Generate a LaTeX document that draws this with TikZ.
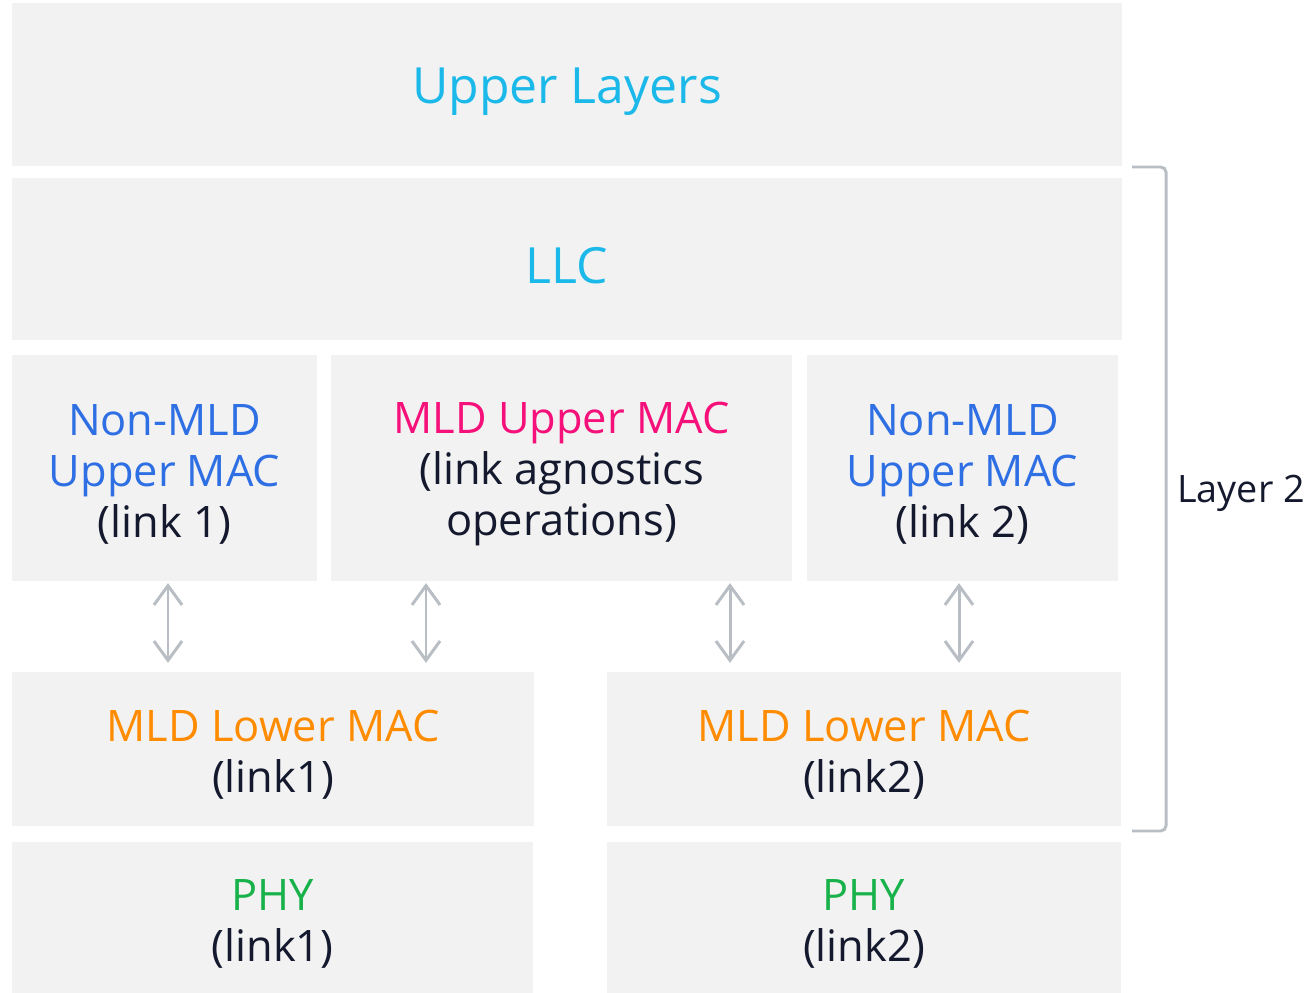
\documentclass[tikz,border=0pt]{standalone}
\usepackage{fontspec}
\setmainfont{Open Sans}
\usetikzlibrary{arrows.meta}
\definecolor{boxgray}{HTML}{F2F2F2}
\definecolor{linegray}{HTML}{B8BEC4}
\definecolor{textdark}{HTML}{14192E}
\definecolor{upcyan}{HTML}{1BB8EA}
\definecolor{macblue}{HTML}{2F6FE4}
\definecolor{mldpink}{HTML}{F5107A}
\definecolor{loworange}{HTML}{FF8C00}
\definecolor{phygreen}{HTML}{18B24A}
\newcommand{\lift}{\rule{0pt}{1em}}
\begin{document}
\begin{tikzpicture}[x=0.02cm, y=-0.02cm,
    layerbox/.style={fill=boxgray, inner sep=0pt, align=center, text=textdark,
        font=\fontsize{24.7}{29}\selectfont},
    bigtext/.style={font=\fontsize{28.4}{32}\selectfont},
    biarrow/.style={draw=linegray, line width=1.7pt,
        {Straight Barb[length=11pt, width=16pt, line width=1.7pt]}-{Straight Barb[length=11pt, width=16pt, line width=1.7pt]},
        shorten <=1pt, shorten >=5pt}]
    \useasboundingbox (0,0) rectangle (1312,993);

    \node (upper) [layerbox, bigtext, minimum width=22.2cm, minimum height=3.26cm] at (567,84.5) {\lift\textcolor{upcyan}{Upper Layers}};
    \node (llc) [layerbox, bigtext, minimum width=22.2cm, minimum height=3.24cm] at (567,259) {\lift\textcolor{upcyan}{LLC}};

    \node (nonmldA) [layerbox, minimum width=6.1cm, minimum height=4.52cm] at (164.5,468) {\lift\textcolor{macblue}{Non-MLD}\\\textcolor{macblue}{Upper MAC}\\(link 1)};
    \node (mldup) [layerbox, minimum width=9.22cm, minimum height=4.52cm] at (561.5,468) {\lift\textcolor{mldpink}{MLD Upper MAC}\\(link agnostics\\operations)};
    \node (nonmldB) [layerbox, minimum width=6.22cm, minimum height=4.52cm] at (962.5,468) {\lift\textcolor{macblue}{Non-MLD}\\\textcolor{macblue}{Upper MAC}\\(link 2)};

    \node (mldlowA) [layerbox, minimum width=10.44cm, minimum height=3.08cm] at (273,749) {\lift\textcolor{loworange}{MLD Lower MAC}\\(link1)};
    \node (mldlowB) [layerbox, minimum width=10.28cm, minimum height=3.08cm] at (864,749) {\lift\textcolor{loworange}{MLD Lower MAC}\\(link2)};

    \node (phyA) [layerbox, minimum width=10.42cm, minimum height=3.02cm] at (272.5,917.5) {\lift\textcolor{phygreen}{PHY}\\(link1)};
    \node (phyB) [layerbox, minimum width=10.28cm, minimum height=3.02cm] at (864,917.5) {\lift\textcolor{phygreen}{PHY}\\(link2)};

    % arrows between upper and lower MAC
    \draw [biarrow] (nonmldA.south -| 168,0) -- (mldlowA.north -| 168,0);
    \draw [biarrow] (mldup.south -| 426,0) -- (mldlowA.north -| 426,0);
    \draw [biarrow] (mldup.south -| 730,0) -- (mldlowB.north -| 730,0);
    \draw [biarrow] (nonmldB.south -| 959,0) -- (mldlowB.north -| 959,0);

    % layer 2 bracket
    \coordinate (brtop) at (1132,167);
    \coordinate (brbot) at (1132,831);
    \draw [linegray, line width=1.7pt, rounded corners=3pt] (brtop) -- (1166,167) -- (1166,831) -- (brbot);
    \node (layertwo) [text=textdark, font=\fontsize{21.5}{26}\selectfont, anchor=west] at (1171,493) {Layer 2};
\end{tikzpicture}
\end{document}
